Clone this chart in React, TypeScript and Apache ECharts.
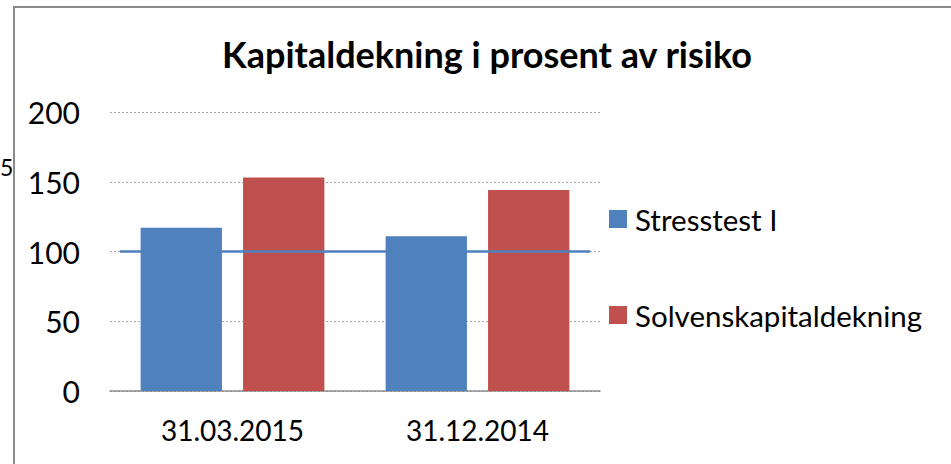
import React, { useEffect, useRef } from "react";
import * as echarts from "echarts";

const categories = ["31.03.2015", "31.12.2014"];
const stresstest = [117, 111];
const solvens = [153, 144];
const thresholdValue = 100;
const thresholdSpan = [0.02, 0.98];
const yMin = 0;
const yMax = 200;
const yInterval = 50;
const seriesNames = ["Stresstest I", "Solvenskapitaldekning"];
const titleText = "Kapitaldekning i prosent av risiko";

const FONT = "Lato, 'Open Sans', sans-serif";

export default function App() {
  const ref = useRef<HTMLDivElement>(null);
  useEffect(() => {
    if (!ref.current) return;
    const chart = echarts.init(ref.current, null, { renderer: "svg" });
    chart.setOption({
      animation: false,
      backgroundColor: "#ffffff",
      textStyle: { fontFamily: FONT },
      title: {
        text: titleText,
        left: 482,
        top: 31,
        textAlign: "center",
        textStyle: { fontSize: 36, fontWeight: "bold", color: "#000", fontFamily: FONT },
      },
      graphic: [
        {
          type: "rect",
          shape: { x: 14, y: 7, width: 1100, height: 600 },
          style: { fill: "none", stroke: "#8a8a8a", lineWidth: 2 },
          silent: true,
        },
        {
          type: "text",
          x: 0,
          y: 167,
          style: {
            text: "5",
            textAlign: "left",
            textVerticalAlign: "middle",
            fontSize: 23,
            fontFamily: FONT,
            fill: "#000",
          },
        },
      ],
      legend: {
        orient: "vertical",
        left: 604,
        top: 199,
        itemWidth: 18,
        itemHeight: 18,
        itemGap: 66,
        icon: "rect",
        data: seriesNames,
        textStyle: { fontSize: 29.5, color: "#000", fontFamily: FONT, padding: [0, 0, 0, 3] },
      },
      grid: { left: 110, right: 351, top: 112, bottom: 73 },
      xAxis: [
        {
          type: "category",
          data: categories,
          axisLine: { lineStyle: { color: "#8c8c8c", width: 1.5 } },
          axisTick: { show: false },
          axisLabel: { fontSize: 28, color: "#000", margin: 25, fontFamily: FONT },
        },
        { type: "value", min: 0, max: 1, show: false },
      ],
      yAxis: {
        type: "value",
        min: yMin,
        max: yMax,
        interval: yInterval,
        axisLine: { show: false },
        axisTick: { show: false },
        axisLabel: { fontSize: 30, color: "#000", margin: 30, fontFamily: FONT },
        splitLine: { lineStyle: { color: "#a6a6a6", type: [2, 2], width: 1 } },
      },
      series: [
        {
          name: seriesNames[0],
          type: "bar",
          data: stresstest,
          itemStyle: { color: "#4f81bd" },
          barGap: "26%",
          barCategoryGap: "25%",
        },
        {
          name: seriesNames[1],
          type: "bar",
          data: solvens,
          itemStyle: { color: "#c0504d" },
        },
        {
          name: "Terskel",
          type: "line",
          xAxisIndex: 1,
          data: thresholdSpan.map((x) => [x, thresholdValue]),
          symbol: "none",
          lineStyle: { color: "#4f81bd", width: 2.5 },
          z: 5,
        },
      ],
    });
    return () => chart.dispose();
  }, []);
  return (
    <div
      ref={ref}
      style={{ position: "fixed", left: 0, top: 0, width: 951, height: 464 }}
    />
  );
}
